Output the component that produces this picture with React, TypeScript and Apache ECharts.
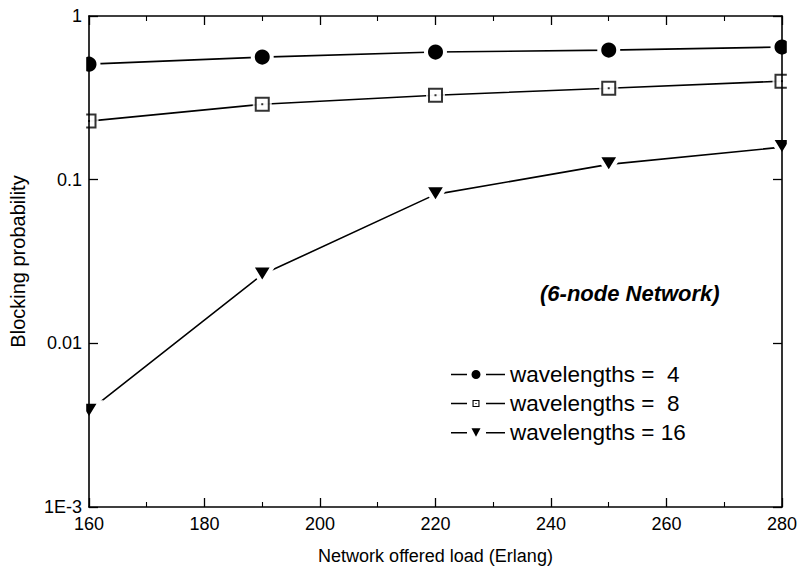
import React, { useEffect, useRef } from "react";
import * as echarts from "echarts";

const loads = [160, 190, 220, 250, 280];
const w4 = [0.508, 0.561, 0.602, 0.619, 0.646];
const w8 = [0.228, 0.289, 0.328, 0.362, 0.4];
const w16 = [0.00386, 0.0263, 0.0813, 0.124, 0.158];
const seriesNames = ["wavelengths =  4", "wavelengths =  8", "wavelengths = 16"];
const yTickLabels: Record<string, string> = { "1": "1", "0.1": "0.1", "0.01": "0.01", "0.001": "1E-3" };

const FONT = "Liberation Sans, Arial, sans-serif";
const GRID = { left: 87, right: 14, top: 16, bottom: 69 };
const W = 800;
const H = 576;

const SEG = "M0,4.3 H16 V5.7 H0 Z M35,4.3 H54 V5.7 H35 Z ";
const ICON_CIRCLE = "path://" + SEG + "M20.5,5 A4.5,4.5 0 1 0 29.5,5 A4.5,4.5 0 1 0 20.5,5 Z";
const ICON_SQUARE =
  "path://" + SEG + "M21.5,1.5 H28.5 V8.5 H21.5 Z M22.6,2.6 V7.4 H27.4 V2.6 Z M24.4,4.4 H25.6 V5.6 H24.4 Z";
const ICON_TRI = "path://" + SEG + "M20.5,0.5 H29.5 L25,9 Z";

export default function App() {
  const ref = useRef<HTMLDivElement>(null);
  useEffect(() => {
    if (!ref.current) return;
    const chart = echarts.init(ref.current, null, { renderer: "svg" });
    const pairs = (ys: number[]) => loads.map((x, i) => [x, ys[i]]);
    const lineStyle = { color: "#000", width: 1.6 };
    const axisLine = { lineStyle: { color: "#000", width: 1.6 } };
    const tick = { inside: true, length: 9, lineStyle: { color: "#000", width: 1.3 } };
    const minor = { show: true, splitNumber: 2, length: 5, lineStyle: { color: "#000", width: 1.1 } };
    const legendItemStyle = { color: "#000", borderColor: "#000", borderWidth: 0 };
    chart.setOption({
      animation: false,
      backgroundColor: "#fff",
      textStyle: { fontFamily: FONT },
      grid: { ...GRID, containLabel: false },
      xAxis: [
        {
          type: "value",
          min: 160,
          max: 280,
          interval: 20,
          z: 10,
          name: "Network offered load (Erlang)",
          nameLocation: "middle",
          nameGap: 40,
          nameTextStyle: { fontSize: 18, color: "#000", fontFamily: FONT },
          axisLine,
          axisTick: tick,
          minorTick: minor,
          axisLabel: { fontSize: 18, color: "#000", margin: 8, fontFamily: FONT },
          splitLine: { show: false },
        },
        {
          type: "value",
          position: "top",
          min: 160,
          max: 280,
          interval: 20,
          z: 10,
          axisLine,
          axisTick: tick,
          minorTick: minor,
          axisLabel: { show: false },
          splitLine: { show: false },
        },
      ],
      yAxis: [
        {
          type: "log",
          logBase: 10,
          min: 0.001,
          max: 1,
          z: 10,
          name: "Blocking probability",
          nameLocation: "middle",
          nameGap: 61,
          nameTextStyle: { fontSize: 20, color: "#000", fontFamily: FONT },
          axisLine,
          axisTick: tick,
          axisLabel: {
            fontSize: 18,
            color: "#000",
            margin: 7,
            fontFamily: FONT,
            formatter: (v: number) => {
              const k = String(Number(v.toPrecision(3)));
              return yTickLabels[k] ?? k;
            },
          },
          splitLine: { show: false },
        },
        {
          type: "log",
          logBase: 10,
          min: 0.001,
          max: 1,
          position: "right",
          z: 10,
          axisLine,
          axisTick: tick,
          axisLabel: { show: false },
          splitLine: { show: false },
        },
      ],
      legend: {
        orient: "vertical",
        left: 446,
        top: 358,
        itemWidth: 54,
        itemHeight: 10,
        itemGap: 6,
        symbolKeepAspect: true,
        itemStyle: legendItemStyle,
        textStyle: { fontSize: 22.5, color: "#000", fontFamily: FONT, lineHeight: 22 },
        data: [
          { name: seriesNames[0], icon: ICON_CIRCLE, itemStyle: legendItemStyle },
          { name: seriesNames[1], icon: ICON_SQUARE, itemStyle: legendItemStyle },
          { name: seriesNames[2], icon: ICON_TRI, itemStyle: legendItemStyle },
        ],
      },
      graphic: [
        {
          type: "rect",
          z: 5,
          silent: true,
          shape: { x: 0, y: 0, width: GRID.left - 0.8, height: H },
          style: { fill: "#fff" },
        },
        {
          type: "rect",
          z: 5,
          silent: true,
          shape: { x: W - GRID.right + 0.8, y: 0, width: GRID.right, height: H },
          style: { fill: "#fff" },
        },
        {
          type: "text",
          left: 540,
          top: 282,
          z: 6,
          style: {
            text: "(6-node Network)",
            font: "italic bold 22px " + FONT,
            fill: "#000",
          },
        },
      ],
      series: [
        {
          name: seriesNames[0],
          type: "line",
          data: pairs(w4),
          symbol: "circle",
          symbolSize: 19,
          itemStyle: { color: "#000", borderColor: "#fff", borderWidth: 4 },
          lineStyle,
        },
        {
          name: seriesNames[1],
          type: "line",
          data: pairs(w8),
          symbol: "none",
          itemStyle: { color: "#000" },
          lineStyle,
        },
        {
          name: "sq-halo",
          type: "scatter",
          data: pairs(w8),
          symbol: "rect",
          symbolSize: 19,
          itemStyle: { color: "#fff" },
          z: 3,
          silent: true,
        },
        {
          name: "sq",
          type: "scatter",
          data: pairs(w8),
          symbol: "emptyRect",
          symbolSize: 13,
          itemStyle: { color: "#000", borderColor: "#000", borderWidth: 1.4 },
          z: 4,
          silent: true,
        },
        {
          name: "sq-dot",
          type: "scatter",
          data: pairs(w8),
          symbol: "rect",
          symbolSize: 2,
          itemStyle: { color: "#000" },
          z: 4,
          silent: true,
        },
        {
          name: seriesNames[2],
          type: "line",
          data: pairs(w16),
          symbol: "triangle",
          symbolRotate: 180,
          symbolSize: [22, 18],
          itemStyle: { color: "#000", borderColor: "#fff", borderWidth: 4 },
          lineStyle,
        },
      ],
    });
    return () => chart.dispose();
  }, []);
  return (
    <div
      ref={ref}
      style={{ position: "absolute", left: 0, top: 0, width: W, height: H, background: "#fff" }}
    />
  );
}
